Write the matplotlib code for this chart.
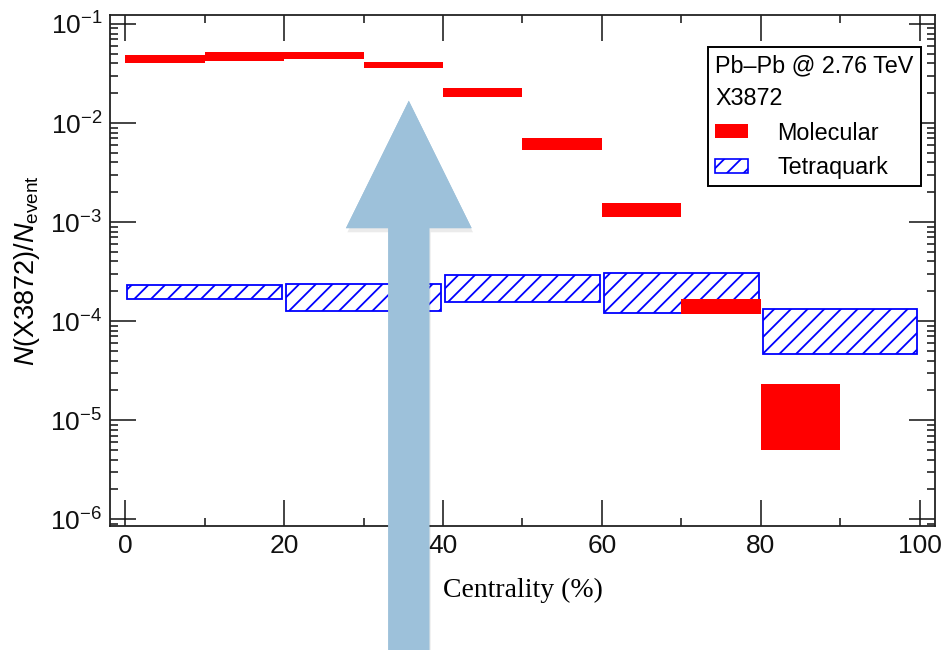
import numpy as np
import matplotlib
matplotlib.use("Agg")
import matplotlib.pyplot as plt
from matplotlib.patches import Patch, FancyArrow
from matplotlib.ticker import MultipleLocator, LogLocator, NullFormatter
import matplotlib.patheffects as pe

# centrality bins (%)
mol_lo_edge = [0, 10, 20, 30, 40, 50, 60, 70, 80]
mol_hi_edge = [10, 20, 30, 40, 50, 60, 70, 80, 90]
# molecular yield band (lower / upper)
mol_low = [0.0402, 0.0427, 0.0445, 0.0358, 0.0181, 0.00538, 0.00113, 1.175e-4, 5.0e-6]
mol_high = [0.0488, 0.0519, 0.0519, 0.0417, 0.0225, 0.00706, 0.00154, 1.69e-4, 2.32e-5]

tet_lo_edge = [0, 20, 40, 60, 80]
tet_hi_edge = [20, 40, 60, 80, 100]
tet_low = [1.68e-4, 1.28e-4, 1.56e-4, 1.21e-4, 4.68e-5]
tet_high = [2.34e-4, 2.37e-4, 2.94e-4, 3.08e-4, 1.33e-4]

plt.rcParams['font.family'] = ['Liberation Sans', 'DejaVu Sans']
plt.rcParams['mathtext.fontset'] = 'custom'
plt.rcParams['mathtext.rm'] = 'Liberation Sans'
plt.rcParams['mathtext.it'] = 'Liberation Sans:italic'
plt.rcParams['hatch.linewidth'] = 1.3

fig = plt.figure(figsize=(9.43, 6.5), dpi=100)
ax = fig.add_axes([0.1166, 0.1908, 0.8749, 0.7862])

gap = 0.3
tlo = np.array(tet_lo_edge) + gap
thi = np.array(tet_hi_edge) - gap
tl = np.array(tet_low)
th = np.array(tet_high)
ax.bar(tlo, th - tl, bottom=tl, width=thi - tlo, align='edge',
       facecolor='white', edgecolor='#0000ff', hatch='//', linewidth=1.3, zorder=2)

mlo = np.array(mol_lo_edge)
mhi = np.array(mol_hi_edge)
ml = np.array(mol_low)
mh = np.array(mol_high)
ax.bar(mlo, mh - ml, bottom=ml, width=mhi - mlo, align='edge',
       color='#ff0000', linewidth=0, zorder=3)

ax.set_yscale('log')
ax.set_xlim(-1.9, 101.9)
ax.set_ylim(8.55e-7, 0.1233)
ax.xaxis.set_major_locator(MultipleLocator(20))
ax.xaxis.set_minor_locator(MultipleLocator(10))
ax.yaxis.set_minor_locator(LogLocator(base=10, subs=np.arange(2, 10)))
ax.yaxis.set_minor_formatter(NullFormatter())
ax.tick_params(which='both', direction='in', top=True, right=True, width=1.1, colors='#111111')
ax.tick_params(which='major', length=18.5, labelsize=19)
ax.tick_params(axis='x', which='major', pad=6)
ax.tick_params(axis='y', which='major', pad=5.5)
ax.tick_params(which='minor', length=6)
for sp in ax.spines.values():
    sp.set_linewidth(1.3)
    sp.set_color('#222222')

ax.set_xlabel('Centrality (%)', family='Liberation Serif', fontsize=20, labelpad=14)
ax.set_ylabel(r'$N$(X3872)/$N_{\mathrm{event}}$', fontsize=19.5, labelpad=6)

handles = [Patch(facecolor='#ff0000', edgecolor='none'),
           Patch(facecolor='white', edgecolor='#0000ff', hatch='//', linewidth=1.2)]
leg = ax.legend(handles, ['Molecular', 'Tetraquark'],
                title='Pb\u2013Pb @ 2.76 TeV\nX3872', title_fontsize=16.8, fontsize=16.8,
                alignment='left', loc='upper right', bbox_to_anchor=(0.9827, 0.9374),
                borderaxespad=0, fancybox=False, edgecolor='black', framealpha=1,
                handlelength=1.4, handleheight=0.52, handletextpad=1.25,
                labelspacing=0.5, borderpad=0.3)
leg.get_title().set_linespacing(1.55)
leg.get_frame().set_linewidth(1.4)
leg.set_zorder(5)

# overlay arrow
arrow = FancyArrow(0.4335, -0.01, 0, 0.855, width=0.0435, head_width=0.1333,
                   head_length=0.196, length_includes_head=True,
                   transform=fig.transFigure, facecolor='#9dc1da', edgecolor='none',
                   zorder=10,
                   path_effects=[pe.withSimplePatchShadow(offset=(1, -3), shadow_rgbFace='k', alpha=0.08),
                                 pe.Normal()])
fig.patches.append(arrow)

fig.savefig('out.png', dpi=100)
